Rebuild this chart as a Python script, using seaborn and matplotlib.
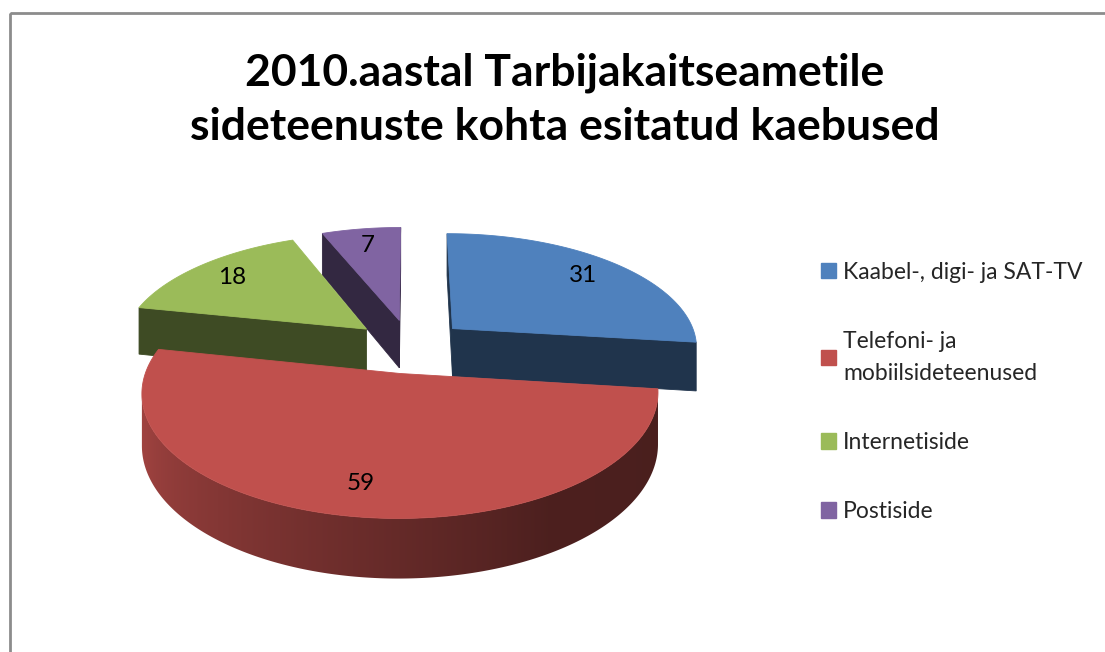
import numpy as np
import seaborn as sns
import matplotlib.pyplot as plt
from matplotlib.patches import Polygon, Rectangle, Patch

# data
categories = ["Kaabel-, digi- ja SAT-TV", "Telefoni- ja\nmobiilsideteenused", "Internetiside", "Postiside"]
complaints = [31, 59, 18, 7]
title = "2010.aastal Tarbijakaitseametile\nsideteenuste kohta esitatud kaebused"

sns.set_style("white")
colors = sns.color_palette(["#4F81BD", "#C0504D", "#9BBB59", "#8064A2"])
plt.rcParams["font.family"] = ["Lato", "DejaVu Sans"]

# pie geometry in pixel space (y grows downwards)
cx, cy = 410, 346
rx, ry = 246, 114
depth = 49
persp = 0.15
explode = 0.236
label_r = 0.8


def project(u, v, h=0.0):
    s = 1.0 / (1.0 + persp * v)
    return cx + rx * u * s, cy - ry * v * s + depth * h * s


def signed_area(pts):
    x = np.array([p[0] for p in pts])
    y = np.array([p[1] for p in pts])
    return 0.5 * np.sum(x * np.roll(y, -1) - np.roll(x, -1) * y)


def shade(rgb, f):
    return tuple(min(1, c * f) for c in rgb)


def wall_factor(theta_deg):
    t = np.mod(theta_deg, 360)
    return np.interp(t, [0, 180, 200, 300, 360], [0.4, 0.85, 0.82, 0.40, 0.38])


fig = plt.figure(figsize=(11.05, 6.52), dpi=100)
ax = fig.add_axes([0, 0, 1, 1])

fracs = np.array(complaints) / sum(complaints)
his = 90 - 360 * np.concatenate([[0], np.cumsum(fracs)[:-1]])
los = his - 360 * fracs

slices = []
for i in range(len(complaints)):
    mid = np.radians((his[i] + los[i]) / 2)
    ox, oy = explode * np.cos(mid), explode * np.sin(mid)
    slices.append((oy, i, ox, mid))

z = 1
# far slices first
for oy, i, ox, mid in sorted(slices, reverse=True):
    col = np.array(colors[i])
    lo, hi = np.radians(los[i]), np.radians(his[i])
    th = np.linspace(lo, hi, max(4, int(np.degrees(hi - lo)) * 2))

    # outer wall: find front facing runs, fill them with a horizontal gradient
    visible = []
    for a, b in zip(th[:-1], th[1:]):
        quad = [project(ox + np.cos(a), oy + np.sin(a)),
                project(ox + np.cos(b), oy + np.sin(b)),
                project(ox + np.cos(b), oy + np.sin(b), 1),
                project(ox + np.cos(a), oy + np.sin(a), 1)]
        visible.append(signed_area(quad) > 0)
    runs, cur = [], []
    for k, vis in enumerate(visible):
        if vis:
            cur.append(k)
        elif cur:
            runs.append(cur)
            cur = []
    if cur:
        runs.append(cur)
    for run in runs:
        angs = th[run[0]:run[-1] + 2]
        top_pts = [project(ox + np.cos(t), oy + np.sin(t)) for t in angs]
        bot_pts = [project(ox + np.cos(t), oy + np.sin(t), 1) for t in angs]
        poly = Polygon(top_pts + bot_pts[::-1], closed=True, facecolor="none",
                       edgecolor="none", zorder=z)
        ax.add_patch(poly)
        xs = np.array([p[0] for p in top_pts])
        ys = np.array([p[1] for p in top_pts + bot_pts])
        order = np.argsort(xs)
        gx = np.linspace(xs.min(), xs.max(), 400)
        gth = np.interp(gx, xs[order], np.degrees(angs)[order])
        img = (col[None, :] * wall_factor(gth)[:, None])[None, :, :]
        im = ax.imshow(np.clip(img, 0, 1), extent=(xs.min() - 1, xs.max() + 1, ys.max() + 1, ys.min() - 1),
                       aspect="auto", interpolation="bilinear", zorder=z)
        im.set_clip_path(poly)
        z += 1

    # radial cut faces
    for ang, is_hi in [(lo, False), (hi, True)]:
        outer = (ox + np.cos(ang), oy + np.sin(ang))
        if is_hi:
            quad = [project(*outer), project(ox, oy), project(ox, oy, 1), project(*outer, 1)]
        else:
            quad = [project(ox, oy), project(*outer), project(*outer, 1), project(ox, oy, 1)]
        if signed_area(quad) > 0:
            c = shade(col, 0.4)
            ax.add_patch(Polygon(quad, closed=True, facecolor=c, edgecolor=c, lw=0.6, zorder=z))
            z += 1

    # top face
    top = [project(ox, oy)] + [project(ox + np.cos(t), oy + np.sin(t)) for t in th]
    ax.add_patch(Polygon(top, closed=True, facecolor=col, edgecolor=col, lw=0.6, zorder=z))
    z += 1

    lx, ly = project(ox + label_r * np.cos(mid), oy + label_r * np.sin(mid))
    ax.text(lx, ly, str(complaints[i]), ha="center", va="center", fontsize=17.5,
            color="black", zorder=100)

ax.set_xlim(0, 1105)
ax.set_ylim(652, 0)
ax.axis("off")

ax.text(565, 100, title, ha="center", va="center", fontsize=32, fontweight="bold",
        linespacing=1.41, color="black")

handles = [Patch(facecolor=c, edgecolor=c) for c in colors]
leg = ax.legend(handles, categories, loc="center left", bbox_to_anchor=(821, 392),
                bbox_transform=ax.transData, frameon=False, fontsize=16.5,
                handlelength=0.655, handleheight=0.655, handletextpad=0.3,
                labelspacing=2.11, borderpad=0, borderaxespad=0)
for t in leg.get_texts():
    t.set_linespacing(1.61)

# chart area border
ax.add_patch(Rectangle((9.5, 13), 1200, 700, fill=False, edgecolor="#8c8c8c", lw=2, zorder=200))

fig.savefig("out.png", dpi=100)
